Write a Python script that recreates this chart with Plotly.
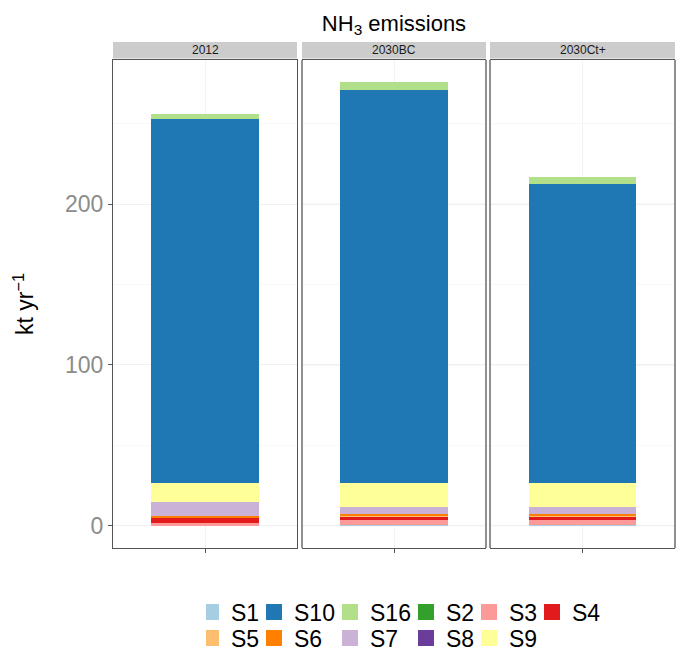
import plotly.graph_objects as go

# ---------------- data ----------------
scenarios = ["2012", "2030BC", "2030Ct+"]
stack_order = ["S1", "S2", "S3", "S4", "S5", "S6", "S7", "S8", "S9", "S10", "S16"]
legend_row1 = ["S1", "S10", "S16", "S2", "S3", "S4"]
legend_row2 = ["S5", "S6", "S7", "S8", "S9"]

S1 = [0.0, 0.7, 0.7]
S2 = [0.0, 0.0, 0.0]
S3 = [1.7, 3.1, 3.1]
S4 = [3.7, 2.1, 2.1]
S5 = [0.0, 0.3, 0.3]
S6 = [1.0, 1.2, 1.2]
S7 = [8.3, 4.5, 4.5]
S8 = [0.0, 0.0, 0.0]
S9 = [12.0, 14.6, 14.6]
S10 = [226.3, 244.5, 185.8]
S16 = [2.9, 4.8, 4.6]

values = {"S1": S1, "S2": S2, "S3": S3, "S4": S4, "S5": S5, "S6": S6,
          "S7": S7, "S8": S8, "S9": S9, "S10": S10, "S16": S16}

colors = {"S1": "#A6CEE3", "S10": "#1F78B4", "S16": "#B2DF8A", "S2": "#33A02C",
          "S3": "#FB9A99", "S4": "#E31A1C", "S5": "#FDBF6F", "S6": "#FF7F00",
          "S7": "#CAB2D6", "S8": "#6A3D9A", "S9": "#FFFF99"}

y_ticks = [0, 100, 200]
y_minor = [50, 150, 250]

FONT = "Liberation Sans, Arial, sans-serif"

# ---------------- figure ----------------
W, H = 683, 651
left, right, top, bottom = 113, 675, 60, 548
pw = right - left
panels_px = [(113, 297), (302, 486), (490, 675)]
domains = [[(a - left) / pw, (b - left) / pw] for a, b in panels_px]

fig = go.Figure()

for i, sc in enumerate(scenarios):
    xa = "x" if i == 0 else f"x{i+1}"
    for s in stack_order:
        fig.add_trace(go.Bar(
            x=[sc], y=[values[s][i]], name=s, xaxis=xa, yaxis="y",
            marker=dict(color=colors[s], line=dict(width=0)),
            width=0.7, showlegend=False, legendgroup=s,
        ))

# legend entries (two rows, columns aligned like the reference)
col_widths = [33, 46, 46, 33, 33, 33]
for row, lg in ((legend_row1, "legend"), (legend_row2, "legend2")):
    for j, s in enumerate(row):
        fig.add_trace(go.Scatter(
            x=[None], y=[None], mode="markers", name=s, legendgroup=s,
            legend=lg, legendwidth=col_widths[j],
            marker=dict(symbol="square", size=16, color=colors[s],
                        line=dict(width=0)),
            showlegend=True,
        ))

totals = [sum(values[s][i] for s in stack_order) for i in range(len(scenarios))]
ymax = max(totals)
yrange = [-0.05 * ymax, ymax * 1.05]

legend_common = dict(orientation="h", xref="container", yref="container",
                     x=206 / W, xanchor="left", yanchor="middle",
                     font=dict(size=23, color="black"), itemwidth=30,
                     indentation=-15, bgcolor="rgba(0,0,0,0)", borderwidth=0)

layout = dict(
    width=W, height=H,
    margin=dict(l=left, r=W - right, t=top, b=H - bottom),
    paper_bgcolor="white", plot_bgcolor="white",
    barmode="stack", bargap=0,
    font=dict(family=FONT, color="black"),
    title=dict(text="NH<sub>3</sub> emissions", x=0.5, xref="paper",
               xanchor="center", y=1 - 23 / H, yref="container",
               yanchor="middle", font=dict(size=22, color="black")),
    showlegend=True,
    legend=dict(legend_common, y=1 - 612 / H),
    legend2=dict(legend_common, y=1 - 638 / H),
)

for i, sc in enumerate(scenarios):
    key = "xaxis" if i == 0 else f"xaxis{i+1}"
    layout[key] = dict(
        domain=domains[i], anchor="y", type="category",
        categoryorder="array", categoryarray=[sc],
        range=[-0.6, 0.6], showticklabels=False,
        ticks="outside", ticklen=4, tickcolor="#555555",
        showgrid=True, gridcolor="#F2F2F2", gridwidth=1,
        showline=True, mirror=True, linecolor="#555555", linewidth=1.3,
        zeroline=False, fixedrange=True,
    )

layout["yaxis"] = dict(
    domain=[0, 1], anchor="x", range=yrange,
    tickmode="array", tickvals=y_ticks, ticktext=[str(v) for v in y_ticks],
    ticks="outside", ticklen=4, tickcolor="#555555",
    tickfont=dict(size=23, color="#8C8C8C"),
    showgrid=True, gridcolor="#F0F0F0", gridwidth=1,
    minor=dict(tickmode="array", tickvals=y_minor, showgrid=True,
               gridcolor="#F8F8F8", ticks=""),
    showline=True, mirror=True, linecolor="#555555", linewidth=1.3,
    zeroline=False,
    title=dict(text="kt yr<sup>\u22121</sup>", font=dict(size=23, color="black"),
               standoff=24),
)

fig.update_layout(**layout)

strip_h = 18 / (bottom - top)
shapes = []
annotations = []
for i, sc in enumerate(scenarios):
    xr = "x domain" if i == 0 else f"x{i+1} domain"
    shapes.append(dict(type="rect", xref=xr, yref="paper", x0=0, x1=1,
                       y0=1 + 1.5 / (bottom - top), y1=1 + strip_h,
                       fillcolor="#CCCCCC", line=dict(width=0), layer="below"))
    annotations.append(dict(text=sc, xref=xr, yref="paper", x=0.5,
                            y=1 + strip_h / 2 + 0.5 / (bottom - top),
                            showarrow=False, xanchor="center", yanchor="middle",
                            font=dict(size=12, color="#1A1A1A", family=FONT)))
    if i > 0:
        for xv in (0, 1):
            shapes.append(dict(type="line", xref=xr, yref="paper", x0=xv, x1=xv,
                               y0=0, y1=1, line=dict(color="#555555", width=1.3)))
        for v in y_ticks:
            shapes.append(dict(type="line", xref=xr, yref="y", x0=0, x1=1,
                               y0=v, y1=v, line=dict(color="#F0F0F0", width=1),
                               layer="below"))
        for v in y_minor:
            shapes.append(dict(type="line", xref=xr, yref="y", x0=0, x1=1,
                               y0=v, y1=v, line=dict(color="#F8F8F8", width=1),
                               layer="below"))

fig.update_layout(shapes=shapes, annotations=annotations)

fig.write_html("out.html")
